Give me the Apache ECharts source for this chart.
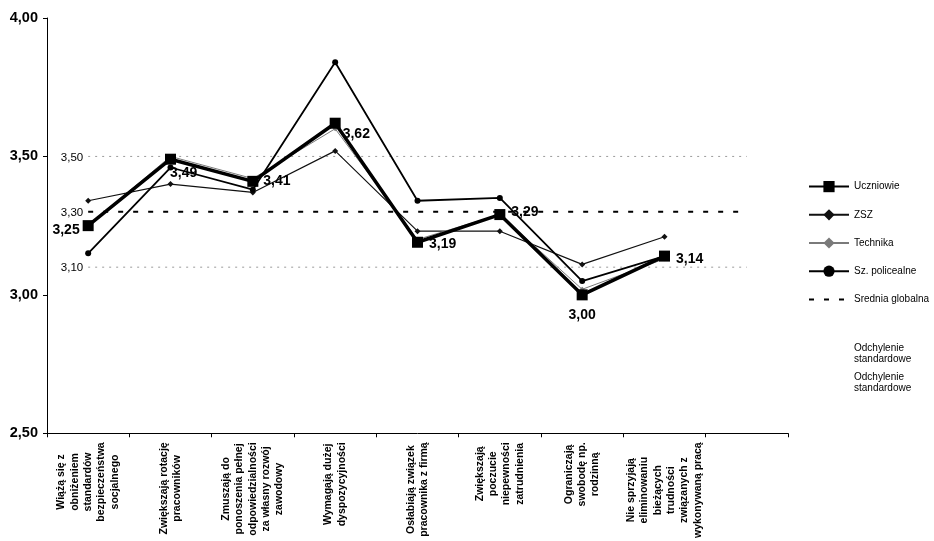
<!DOCTYPE html>
<html>
<head>
<meta charset="utf-8">
<script src="https://cdn.jsdelivr.net/npm/echarts@6/dist/echarts.min.js"></script>
<style>html,body{margin:0;padding:0;background:#fff;}#c{width:934px;height:541px;}</style>
</head>
<body>
<div id="c"></div>
<script>
var categories = [
  "Wiążą się z\nobniżeniem\nstandardów\nbezpieczeństwa\nsocjalnego",
  "Zwiększają rotację\npracowników",
  "Zmuszają do\nponoszenia pełnej\nodpowiedzialności\nza własny rozwój\nzawodowy",
  "Wymagają dużej\ndyspozycyjności",
  "Osłabiają związek\npracownika z firmą",
  "Zwiększają\npoczucie\nniepewności\nzatrudnienia",
  "Ograniczają\nswobodę np.\nrodzinną",
  "Nie sprzyjają\neliminowaniu\nbieżących\ntrudności\nzwiązanych z\nwykonywaną pracą",
  ""
];
var uczniowie = [3.25, 3.49, 3.41, 3.62, 3.19, 3.29, 3.00, 3.14];
var zsz = [3.34, 3.40, 3.37, 3.52, 3.23, 3.23, 3.11, 3.21];
var technika = [3.25, 3.50, 3.42, 3.60, 3.20, 3.29, 3.02, 3.13];
var policealne = [3.15, 3.46, 3.38, 3.84, 3.34, 3.35, 3.05, 3.14];
var sredniaGlobalna = [3.30, 3.30, 3.30, 3.30, 3.30, 3.30, 3.30, 3.30, 3.30];
var odchylenieGorne = [3.50, 3.50, 3.50, 3.50, 3.50, 3.50, 3.50, 3.50, 3.50];
var odchylenieDolne = [3.10, 3.10, 3.10, 3.10, 3.10, 3.10, 3.10, 3.10, 3.10];
var yTicks = {min: 2.5, max: 4.0, interval: 0.5};

var FONT = "'Liberation Sans', Arial, sans-serif";
function fmt(v) { return Number(v).toFixed(2).replace('.', ','); }

var ucLabelCfg = [
  {position: 'left', distance: 3, offset: [0, 4]},
  {position: 'right', distance: 0, offset: [-6, 14]},
  {position: 'right', distance: 5, offset: [0, 0]},
  {position: 'right', distance: 2, offset: [0, 11]},
  {position: 'right', distance: 6, offset: [0, 2]},
  {position: 'right', distance: 6, offset: [0, -2]},
  {position: 'bottom', distance: 8, offset: [0, 0]},
  {position: 'right', distance: 6, offset: [0, 3]}
];
var ucData = uczniowie.map(function (v, i) {
  return {value: v, label: ucLabelCfg[i]};
});
function refData(arr) {
  return arr.map(function (v, i) {
    return i === 0 ? {value: v, label: {show: true, position: 'left', distance: 4, offset: [0, 1], opacity: 1, formatter: function (p) { return fmt(p.value); }, fontSize: 11.5, color: '#000', fontFamily: FONT}} : v;
  });
}

var chart = echarts.init(document.getElementById('c'), null, {renderer: 'canvas'});
var hiddenSym = {symbol: 'circle', symbolSize: 2, showSymbol: true, itemStyle: {color: 'rgba(0,0,0,0)', borderWidth: 0}};
var option = {
  backgroundColor: '#fff',
  animation: false,
  textStyle: {fontFamily: FONT},
  grid: {left: 47, right: 146, top: 18, bottom: 107, containLabel: false},
  legend: [{
    orient: 'vertical', left: 803, top: 176, itemWidth: 40, itemHeight: 14, itemGap: 17,
    textStyle: {fontSize: 10, color: '#000', fontFamily: FONT},
    data: ['Uczniowie', 'ZSZ', 'Technika', 'Sz. policealne',
      {name: 'Srednia globalna', itemStyle: {opacity: 0}}]
  }, {
    orient: 'vertical', left: 803, top: 338, itemWidth: 40, itemHeight: 21, itemGap: 7,
    textStyle: {fontSize: 10, color: '#000', lineHeight: 11, fontFamily: FONT},
    data: [
      {name: 'Odchylenie\nstandardowe', itemStyle: {opacity: 0}, lineStyle: {opacity: 0}},
      {name: 'Odchylenie\nstandardowe\u200b', itemStyle: {opacity: 0}, lineStyle: {opacity: 0}}
    ]
  }],
  xAxis: {
    type: 'category', data: categories, boundaryGap: true,
    axisLine: {lineStyle: {color: '#000', width: 1}},
    axisTick: {show: true, length: 4, lineStyle: {color: '#000'}},
    axisLabel: {
      interval: 0, rotate: 90, margin: 9, color: '#000',
      formatter: function (v) {
        if (!v) return '';
        return v.split('\n').map(function (l) { return '{b|' + l + '}'; }).join('\n');
      },
      rich: {b: {align: 'center', fontSize: 10.5, fontWeight: 'bold', lineHeight: 13.3, color: '#000', fontFamily: FONT}}
    },
    splitLine: {show: false}
  },
  yAxis: {
    type: 'value', min: yTicks.min, max: yTicks.max, interval: yTicks.interval,
    axisLine: {show: true, lineStyle: {color: '#000', width: 1}},
    axisTick: {show: true, length: 4, lineStyle: {color: '#000'}},
    axisLabel: {formatter: fmt, fontSize: 14.5, fontWeight: 'bold', color: '#000', margin: 9, fontFamily: FONT},
    splitLine: {show: false}
  },
  series: [
    Object.assign({name: 'Odchylenie\nstandardowe', type: 'line', data: refData(odchylenieGorne),
      lineStyle: {color: '#9a9a9a', width: 1, type: [2, 5]}, z: 1}, hiddenSym),
    Object.assign({name: 'Odchylenie\nstandardowe\u200b', type: 'line', data: refData(odchylenieDolne),
      lineStyle: {color: '#9a9a9a', width: 1, type: [2, 5]}, z: 1}, hiddenSym),
    Object.assign({name: 'Srednia globalna', type: 'line', data: refData(sredniaGlobalna),
      lineStyle: {color: '#000', width: 2, type: [5, 10]}, z: 2}, hiddenSym),
    {name: 'ZSZ', type: 'line', data: zsz, symbol: 'diamond', symbolSize: 6,
      lineStyle: {color: '#111', width: 1.2}, itemStyle: {color: '#111'}, z: 3},
    {name: 'Technika', type: 'line', data: technika, symbol: 'diamond', symbolSize: 5,
      lineStyle: {color: '#7a7a7a', width: 1}, itemStyle: {color: '#7a7a7a'}, z: 3},
    {name: 'Sz. policealne', type: 'line', data: policealne, symbol: 'circle', symbolSize: 6,
      lineStyle: {color: '#000', width: 1.8}, itemStyle: {color: '#000'}, z: 4},
    {name: 'Uczniowie', type: 'line', data: ucData, symbol: 'rect', symbolSize: 11,
      lineStyle: {color: '#000', width: 3.5}, itemStyle: {color: '#000'}, z: 5,
      label: {show: true, formatter: function (p) { return fmt(p.value); }, fontSize: 14, fontWeight: 'bold', color: '#000', fontFamily: FONT}}
  ]
};
chart.setOption(option);
</script>
</body>
</html>
